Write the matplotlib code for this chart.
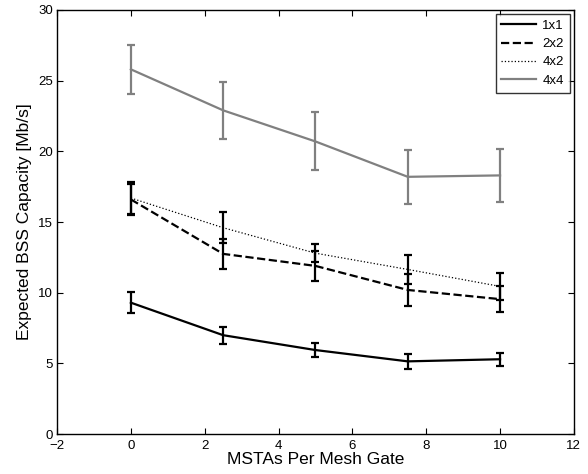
import numpy as np
import matplotlib
matplotlib.use("Agg")
import matplotlib.pyplot as plt

plt.rcParams['font.family'] = ['Liberation Sans', 'DejaVu Sans']

# data
x = [0, 2.5, 5, 7.5, 10]
labels = ['1x1', '2x2', '4x2', '4x4']
y_1x1 = [9.3, 7.0, 5.95, 5.15, 5.3]
e_1x1 = [0.72, 0.6, 0.5, 0.52, 0.45]
y_2x2 = [16.6, 12.75, 11.9, 10.2, 9.55]
e_2x2 = [1.1, 1.05, 1.05, 1.1, 0.9]
y_4x2 = [16.7, 14.6, 12.8, 11.65, 10.45]
e_4x2 = [1.1, 1.1, 0.65, 1.0, 0.95]
y_4x4 = [25.8, 22.9, 20.7, 18.2, 18.3]
e_4x4 = [1.75, 2.0, 2.05, 1.9, 1.9]

series = [y_1x1, y_2x2, y_4x2, y_4x4]
errors = [e_1x1, e_2x2, e_4x2, e_4x4]
styles = [('k', '-', 1.6), ('k', '--', 1.6), ('k', ':', 0.9), ('#808080', '-', 1.6)]

fig = plt.figure(figsize=(5.88, 4.74), dpi=100)
ax = fig.add_axes([0.097, 0.084, 0.879, 0.895])

handles = []
for ys, es, lab, (c, ls, lw) in zip(series, errors, labels, styles):
    h = ax.errorbar(x, ys, yerr=es, color=c, linestyle=ls, linewidth=lw,
                    elinewidth=1.6, capsize=3, capthick=1.6, label=lab)
    h[-1][0].set_linestyle('-')
    handles.append(h)

ax.set_xlim(-2, 12)
ax.set_ylim(0, 30)
ax.set_xticks(range(-2, 13, 2))
ax.set_yticks(range(0, 31, 5))
ax.tick_params(direction='in', top=True, right=True, labelsize=9.5, length=4)
ax.tick_params(axis='x', pad=4.5)
ax.tick_params(axis='y', pad=3)
for s in ax.spines.values():
    s.set_linewidth(1.0)
ax.set_xlabel('MSTAs Per Mesh Gate', fontsize=12.5, labelpad=0)
ax.set_ylabel('Expected BSS Capacity [Mb/s]', fontsize=12.5, labelpad=4)

leg = ax.legend(handles=[h[0] for h in handles], labels=labels, loc='upper right',
                fontsize=9.5, frameon=True, fancybox=False, borderaxespad=0.3,
                handlelength=2.6, labelspacing=0.45, borderpad=0.45, handletextpad=0.5)
leg.get_frame().set_edgecolor('k')
leg.get_frame().set_linewidth(1.0)

fig.savefig('out.png', dpi=100)
